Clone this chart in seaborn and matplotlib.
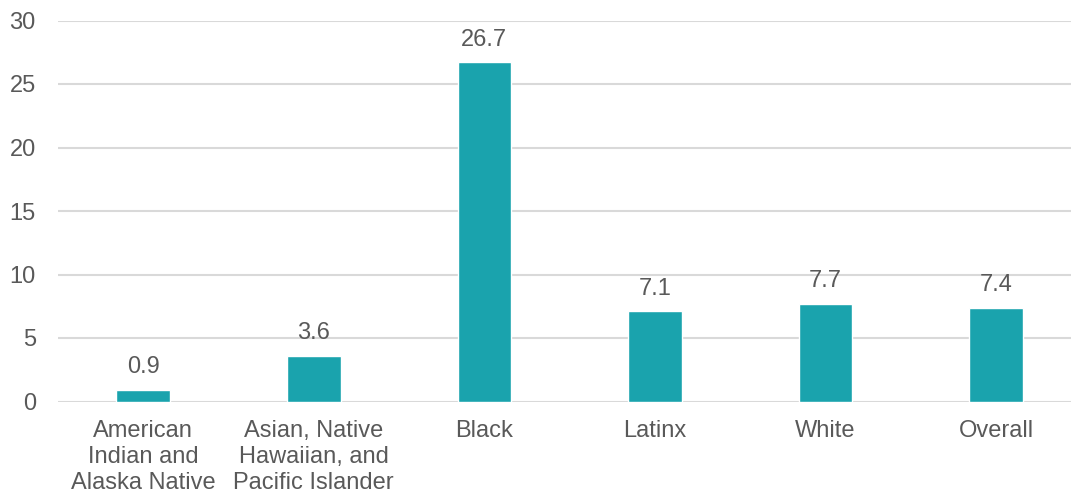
import matplotlib
matplotlib.use("Agg")
import matplotlib.pyplot as plt
import seaborn as sns
import pandas as pd

groups = ["American\nIndian and\nAlaska Native",
          "Asian, Native\nHawaiian, and\nPacific Islander",
          "Black", "Latinx", "White", "Overall"]
rates = [0.9, 3.6, 26.7, 7.1, 7.7, 7.4]
y_ticks = [0, 5, 10, 15, 20, 25, 30]

df = pd.DataFrame({"group": groups, "rate": rates})

sns.set_theme(style="white")
plt.rcParams['font.family'] = ['Liberation Sans', 'DejaVu Sans']

text_col = "#595959"
fig = plt.figure(figsize=(10.71, 4.97), dpi=100)
ax = fig.add_axes([58 / 1071, 95.5 / 497, 1013 / 1071, 381 / 497])

sns.barplot(data=df, x="group", y="rate", color="#1AA3AD", width=0.314,
            saturation=1, ax=ax)

for c in ax.containers:
    ax.bar_label(c, fmt="%.1f", padding=8.5, fontsize=17, color=text_col)

ax.set_ylim(0, 30)
ax.set_xlim(-0.5, 5.44)
ax.set_yticks(y_ticks)
ax.yaxis.grid(True, color="#d9d9d9", linewidth=1.5)
ax.set_axisbelow(True)
for s in ax.spines.values():
    s.set_visible(False)
ax.set_xlabel("")
ax.set_ylabel("")
ax.tick_params(axis="y", length=0, pad=16, labelsize=17, labelcolor=text_col)
ax.tick_params(axis="x", length=0, pad=13, labelsize=17, labelcolor=text_col)
for lab in ax.get_xticklabels():
    lab.set_linespacing(1.26)

fig.savefig("out.png", dpi=100)
